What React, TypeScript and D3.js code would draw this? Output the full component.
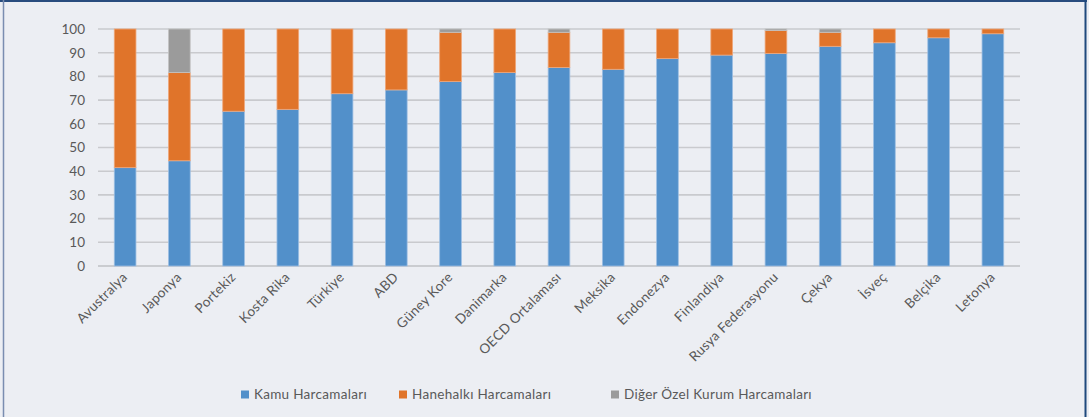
import { useEffect } from 'react';
import * as d3 from 'd3';

// Sağlık harcamalarının finansman kaynaklarına göre dağılımı (%)
const countries = [
    'Avustralya', 'Japonya', 'Portekiz', 'Kosta Rika', 'Türkiye', 'ABD', 'Güney Kore',
    'Danimarka', 'OECD Ortalaması', 'Meksika', 'Endonezya', 'Finlandiya',
    'Rusya Federasyonu', 'Çekya', 'İsveç', 'Belçika', 'Letonya'
];
const kamu = [41.5, 44.4, 65.3, 66.1, 72.7, 74.3, 77.8, 81.6, 83.8, 83.0, 87.5, 89.0, 89.7, 92.7, 94.2, 96.3, 98.0];
const hanehalki = [58.5, 37.2, 34.7, 33.9, 27.3, 25.7, 20.8, 18.4, 14.8, 17.0, 12.5, 11.0, 9.7, 5.9, 5.8, 3.7, 2.0];
const diger = [0, 18.4, 0, 0, 0, 0, 1.4, 0, 1.4, 0, 0, 0, 0.6, 1.4, 0, 0, 0];
const yTicks = [0, 10, 20, 30, 40, 50, 60, 70, 80, 90, 100];

const seriesNames = ['Kamu Harcamaları', 'Hanehalkı Harcamaları', 'Diğer Özel  Kurum Harcamaları'];
const colors = ['#5290CA', '#E0742A', '#9B9B9B'];
const strokes = ['#9DBFE3', '#EFA77A', '#C4C4C4'];

const W = 1089;
const H = 417;
const FONT = 'Lato, "Open Sans", sans-serif';

export default function App() {
    useEffect(() => {
        document.body.style.margin = '0';
    }, []);

    const x = d3.scaleBand<string>()
        .domain(countries)
        .range([98, 1020])
        .paddingInner(0.6)
        .paddingOuter(0.3);

    const y = d3.scaleLinear().domain([0, 100]).range([266, 29]);

    const rows = countries.map((c, i) => ({ country: c, kamu: kamu[i], hane: hanehalki[i], diger: diger[i] }));
    const stacked = d3.stack<any>().keys(['kamu', 'hane', 'diger'])(rows);

    return (
        <svg width={W} height={H} style={{ display: 'block', fontFamily: FONT }}>
            <rect x={0} y={0} width={W} height={H} fill="#ECEEF3" />
            {/* frame */}
            <line x1={0} x2={1087} y1={1} y2={1} stroke="#284C7E" strokeWidth={2} />
            <line x1={3.5} x2={3.5} y1={0} y2={H} stroke="#7A8DB0" strokeWidth={1.5} />
            <line x1={1085.5} x2={1085.5} y1={0} y2={H} stroke="#1F497D" strokeWidth={2} />

            {/* gridlines */}
            {yTicks.map(t => (
                <line key={t} x1={98} x2={1020} y1={y(t)} y2={y(t)}
                    stroke={t === 0 ? '#BFC0C4' : '#C9CACE'} strokeWidth={1.6} />
            ))}
            {yTicks.map(t => (
                <text key={'l' + t} x={85} y={y(t)} dy="0.36em" textAnchor="end"
                    fontSize={13.5} fill="#595959">{t}</text>
            ))}

            {/* bars */}
            {stacked.map((s, si) => (
                <g key={s.key}>
                    {s.map((d, i) => d[1] - d[0] > 0 ? (
                        <rect key={i}
                            x={x(countries[i])!}
                            width={x.bandwidth()}
                            y={y(d[1])}
                            height={y(d[0]) - y(d[1])}
                            fill={colors[si]}
                            stroke={strokes[si]}
                            strokeWidth={0.8} />
                    ) : null)}
                </g>
            ))}

            {/* category labels */}
            {countries.map(c => {
                const cx = x(c)! + x.bandwidth() / 2 + 3;
                const cy = 278;
                return (
                    <text key={c} x={cx} y={cy} textAnchor="end" fontSize={13.5} fill="#595959"
                        letterSpacing={0.3}
                        transform={`rotate(-45, ${cx}, ${cy})`}>{c}</text>
                );
            })}

            {/* legend */}
            {seriesNames.map((name, i) => {
                const sx = [241, 399, 611][i];
                return (
                    <g key={name}>
                        <rect x={sx} y={390.5} width={8} height={8} fill={colors[i]} />
                        <text x={sx + 13} y={399} fontSize={13.5} fill="#595959"
                            letterSpacing={0.3}>{name}</text>
                    </g>
                );
            })}
        </svg>
    );
}
